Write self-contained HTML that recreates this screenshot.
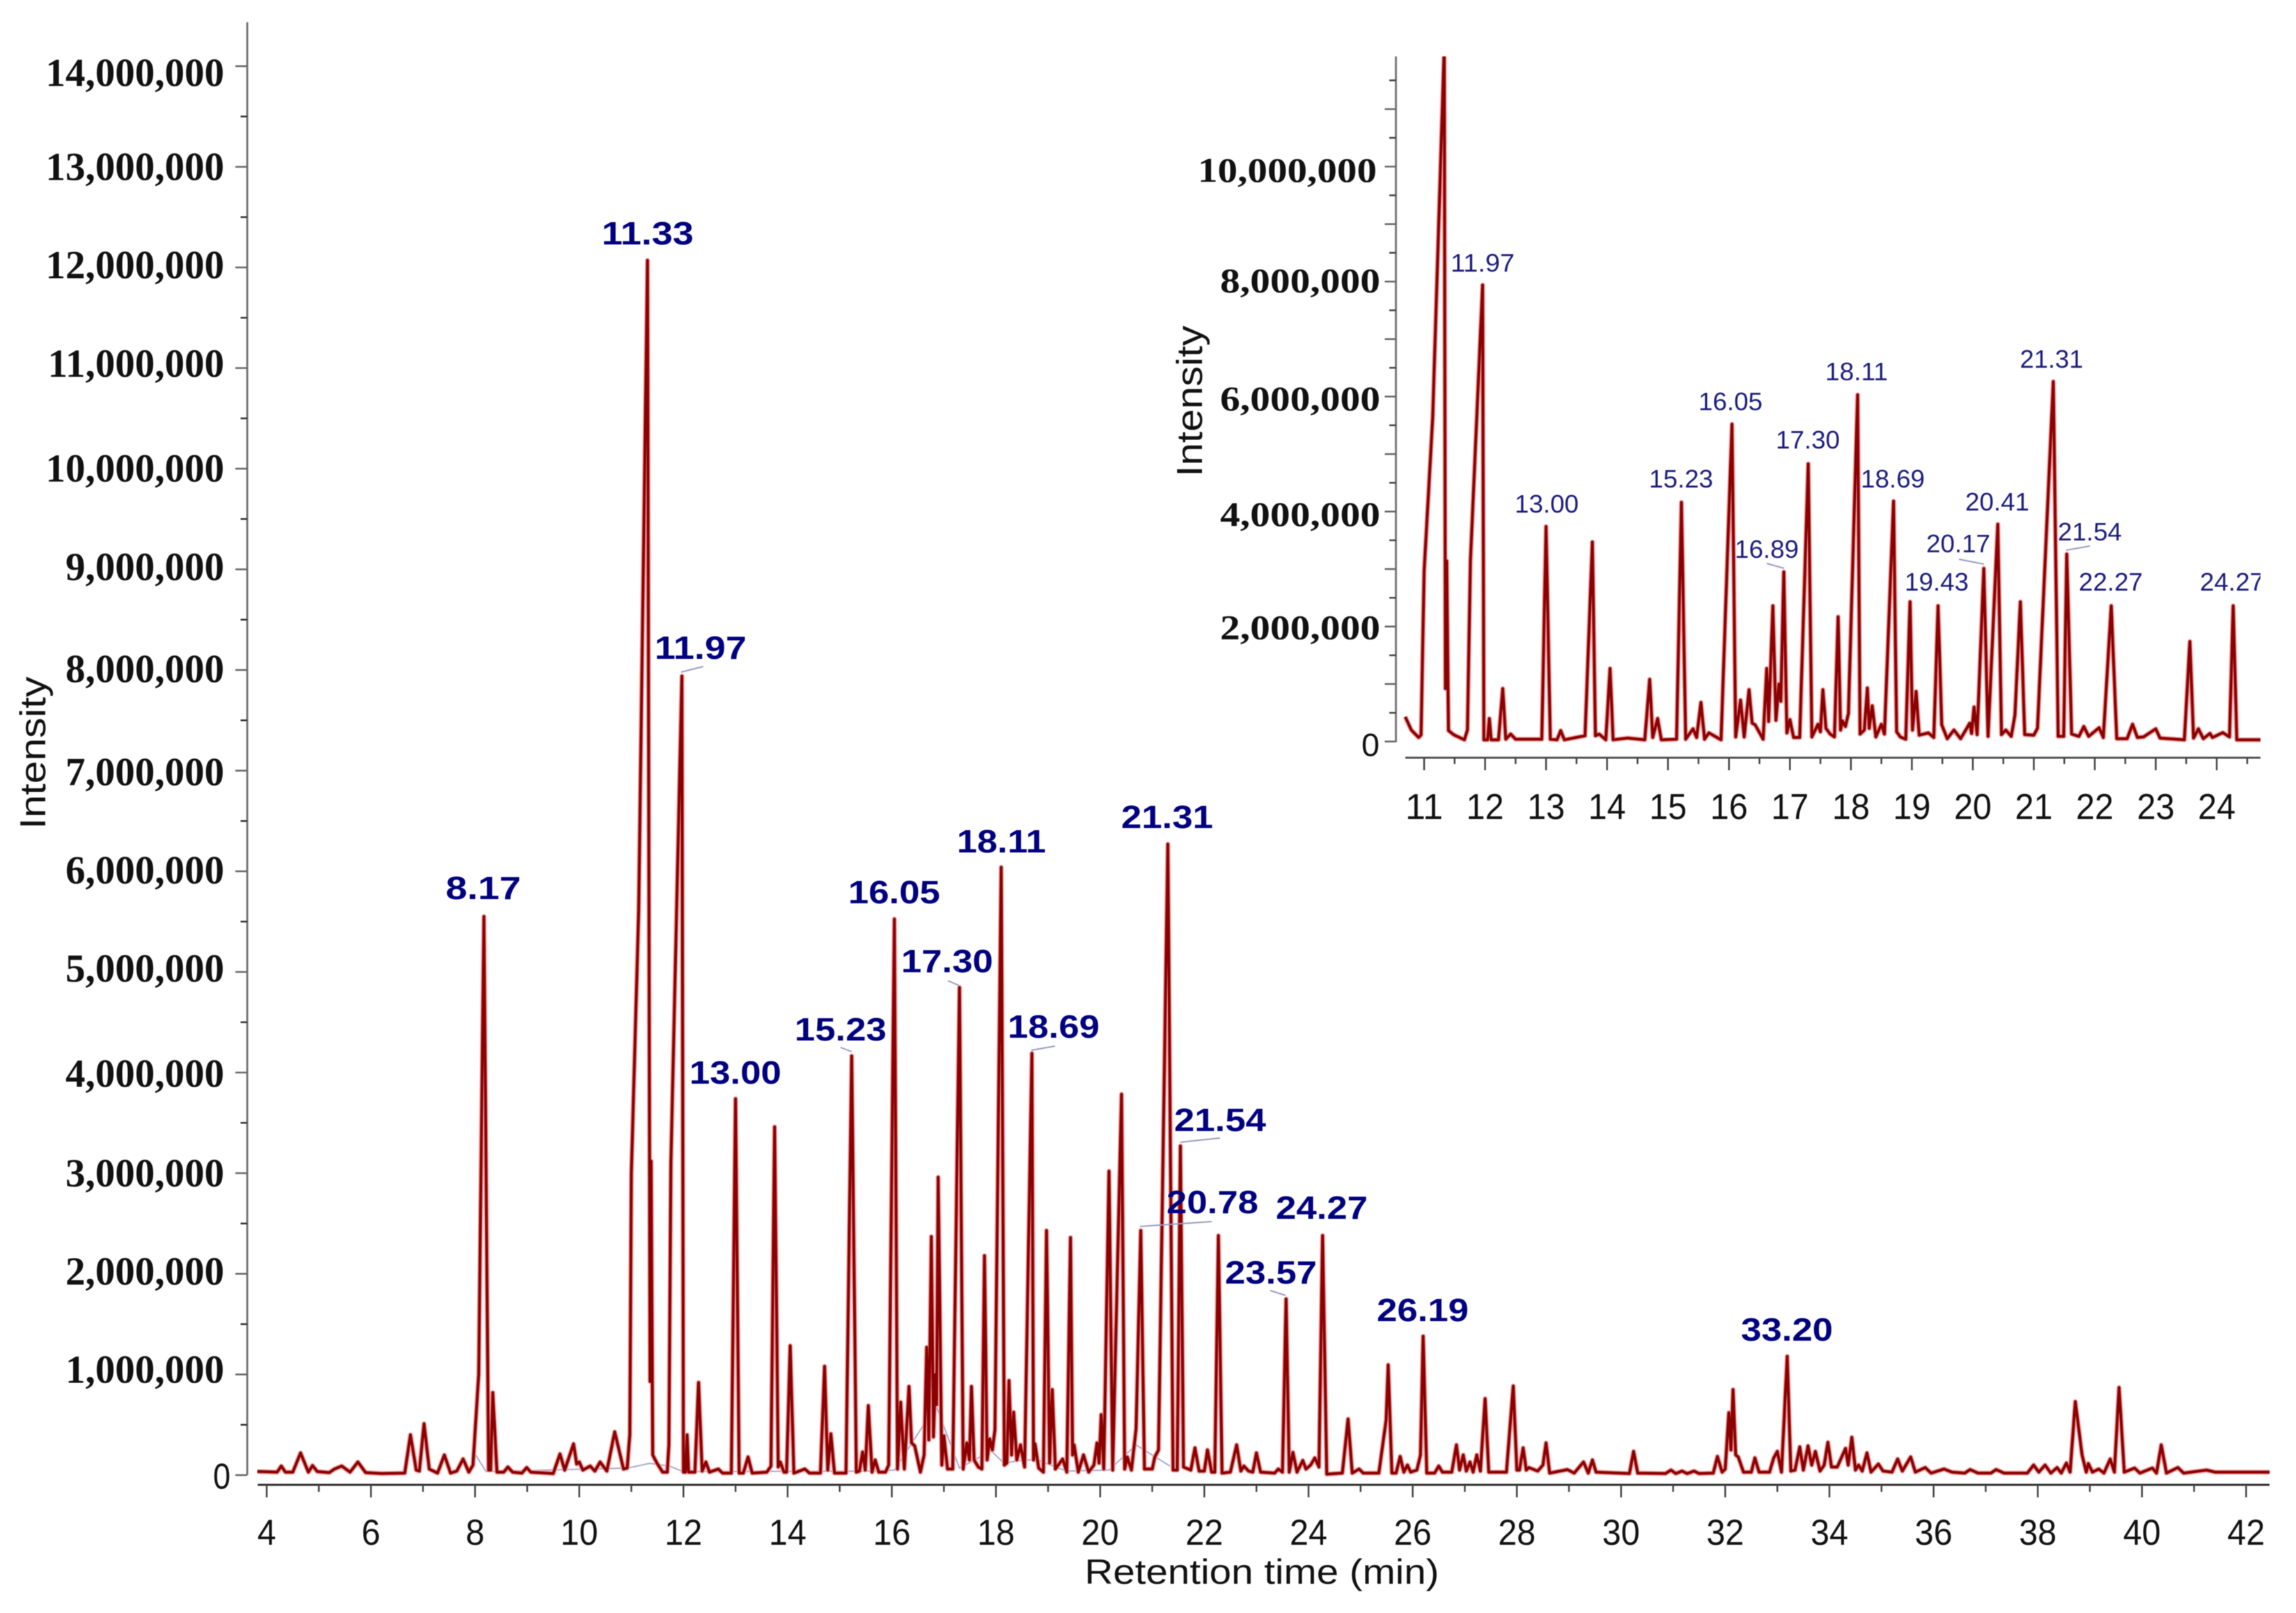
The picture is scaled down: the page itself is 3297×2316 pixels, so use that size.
<!DOCTYPE html>
<html lang="en">
<head>
<meta charset="utf-8">
<title>Chromatogram</title>
<style>
html,body{margin:0;padding:0;background:#fff;}
svg{display:block;filter:blur(0.6px);}
text{font-family:"Liberation Sans",sans-serif;}
.ylab{font-family:"Liberation Serif",serif;font-weight:bold;fill:#111;}
.main-peak{font-weight:bold;font-size:46px;fill:#000080;text-anchor:middle;}
.inset-peak{font-size:36px;fill:#1c1c80;text-anchor:middle;}
.leader{stroke:#9a9ac4;stroke-width:2;fill:none;}
</style>
</head>
<body>
<svg id="chart" xmlns="http://www.w3.org/2000/svg" width="3297" height="2316" viewBox="0 0 3297 2316">
<defs>
<clipPath id="insetClip"><rect x="2010" y="81" width="1236" height="1060"/></clipPath>
</defs>
<rect width="3297" height="2316" fill="#fff"/>
<g id="mainPlot"></g>
<g id="insetPlot"></g>

<text x="1812" y="2274" font-size="50" text-anchor="middle" textLength="509" lengthAdjust="spacingAndGlyphs" fill="#111">Retention time (min)</text>
<text transform="translate(65,1081) rotate(-90)" font-size="52" text-anchor="middle" textLength="219" lengthAdjust="spacingAndGlyphs" fill="#111">Intensity</text>
<text transform="translate(1726,576) rotate(-90)" font-size="52" text-anchor="middle" textLength="217" lengthAdjust="spacingAndGlyphs" fill="#111">Intensity</text>

<g>
<text class="main-peak" x="694" y="1291" textLength="108" lengthAdjust="spacingAndGlyphs">8.17</text>
<text class="main-peak" x="930" y="351" textLength="132" lengthAdjust="spacingAndGlyphs">11.33</text>
<text class="main-peak" x="1006" y="946" textLength="132" lengthAdjust="spacingAndGlyphs">11.97</text>
<text class="main-peak" x="1056" y="1556" textLength="132" lengthAdjust="spacingAndGlyphs">13.00</text>
<text class="main-peak" x="1207" y="1494" textLength="132" lengthAdjust="spacingAndGlyphs">15.23</text>
<text class="main-peak" x="1284" y="1297" textLength="132" lengthAdjust="spacingAndGlyphs">16.05</text>
<text class="main-peak" x="1360" y="1396" textLength="132" lengthAdjust="spacingAndGlyphs">17.30</text>
<text class="main-peak" x="1438" y="1224" textLength="128" lengthAdjust="spacingAndGlyphs">18.11</text>
<text class="main-peak" x="1513" y="1490" textLength="132" lengthAdjust="spacingAndGlyphs">18.69</text>
<text class="main-peak" x="1676" y="1189" textLength="132" lengthAdjust="spacingAndGlyphs">21.31</text>
<text class="main-peak" x="1752" y="1624" textLength="132" lengthAdjust="spacingAndGlyphs">21.54</text>
<text class="main-peak" x="1741" y="1742" textLength="132" lengthAdjust="spacingAndGlyphs">20.78</text>
<text class="main-peak" x="1898" y="1750" textLength="132" lengthAdjust="spacingAndGlyphs">24.27</text>
<text class="main-peak" x="1825" y="1843" textLength="132" lengthAdjust="spacingAndGlyphs">23.57</text>
<text class="main-peak" x="2043" y="1897" textLength="132" lengthAdjust="spacingAndGlyphs">26.19</text>
<text class="main-peak" x="2566" y="1925" textLength="132" lengthAdjust="spacingAndGlyphs">33.20</text>
<line class="leader" x1="978" y1="965" x2="1010" y2="957"/>
<line class="leader" x1="1207" y1="1504" x2="1223" y2="1510"/>
<line class="leader" x1="1361" y1="1408" x2="1377" y2="1415"/>
<line class="leader" x1="1481" y1="1508" x2="1515" y2="1502"/>
<line class="leader" x1="1695" y1="1640" x2="1752" y2="1634"/>
<line class="leader" x1="1637" y1="1761" x2="1740" y2="1754"/>
<line class="leader" x1="1824" y1="1853" x2="1846" y2="1860"/>
</g>

<g clip-path="url(#insetClip)">
<text class="inset-peak" x="2129" y="390" textLength="92" lengthAdjust="spacingAndGlyphs">11.97</text>
<text class="inset-peak" x="2221" y="736" textLength="92" lengthAdjust="spacingAndGlyphs">13.00</text>
<text class="inset-peak" x="2414" y="700" textLength="92" lengthAdjust="spacingAndGlyphs">15.23</text>
<text class="inset-peak" x="2485" y="589" textLength="92" lengthAdjust="spacingAndGlyphs">16.05</text>
<text class="inset-peak" x="2596" y="644" textLength="92" lengthAdjust="spacingAndGlyphs">17.30</text>
<text class="inset-peak" x="2666" y="546" textLength="90" lengthAdjust="spacingAndGlyphs">18.11</text>
<text class="inset-peak" x="2718" y="700" textLength="92" lengthAdjust="spacingAndGlyphs">18.69</text>
<text class="inset-peak" x="2537" y="801" textLength="92" lengthAdjust="spacingAndGlyphs">16.89</text>
<text class="inset-peak" x="2868" y="733" textLength="92" lengthAdjust="spacingAndGlyphs">20.41</text>
<text class="inset-peak" x="2812" y="793" textLength="92" lengthAdjust="spacingAndGlyphs">20.17</text>
<text class="inset-peak" x="2946" y="528" textLength="91" lengthAdjust="spacingAndGlyphs">21.31</text>
<text class="inset-peak" x="3001" y="776" textLength="92" lengthAdjust="spacingAndGlyphs">21.54</text>
<text class="inset-peak" x="2781" y="848" textLength="92" lengthAdjust="spacingAndGlyphs">19.43</text>
<text class="inset-peak" x="3031" y="848" textLength="92" lengthAdjust="spacingAndGlyphs">22.27</text>
<text class="inset-peak" x="3205" y="848" textLength="92" lengthAdjust="spacingAndGlyphs">24.27</text>
<line class="leader" x1="2537" y1="809" x2="2562" y2="816"/>
<line class="leader" x1="2813" y1="803" x2="2849" y2="810"/>
<line class="leader" x1="2967" y1="790" x2="3001" y2="784"/>
</g>
</svg>

<script>
// ---- main chart values: retention time (min) and intensity (millions) ----
const mainRt = [
3.82,4.2,4.28,4.36,4.5,4.65,4.8,4.88,4.97,5.2,5.3,5.44,
5.6,5.75,5.9,6.2,6.65,6.76,6.87,6.93,7.02,7.12,7.28,7.41,
7.53,7.65,7.77,7.88,7.96,8.07,8.17,8.26,8.3,8.34,8.42,8.55,
8.63,8.72,8.9,8.99,9.07,9.5,9.63,9.72,9.89,9.95,10.0,10.07,
10.21,10.3,10.4,10.53,10.68,10.85,10.92,10.97,11.0,11.14,11.31,11.36,
11.38,11.41,11.49,11.6,11.69,11.72,11.76,11.97,12.0,12.04,12.07,12.1,
12.22,12.29,12.36,12.43,12.5,12.67,12.75,12.92,13.0,13.07,13.15,13.24,
13.32,13.6,13.68,13.75,13.82,13.86,13.93,13.98,14.05,14.12,14.33,14.42,
14.63,14.71,14.77,14.83,14.9,15.12,15.23,15.32,15.38,15.44,15.49,15.55,
15.62,15.68,15.75,15.88,15.94,16.05,16.11,16.17,16.24,16.33,16.38,16.44,
16.55,16.62,16.67,16.71,16.76,16.8,16.84,16.86,16.89,16.96,17.0,17.07,
17.17,17.3,17.37,17.44,17.49,17.53,17.58,17.66,17.73,17.78,17.83,17.88,
17.93,17.98,18.1,18.16,18.21,18.25,18.3,18.34,18.4,18.47,18.55,18.69,
18.72,18.75,18.82,18.91,18.97,19.03,19.08,19.14,19.28,19.36,19.43,19.47,
19.5,19.58,19.68,19.78,19.88,19.94,19.98,20.02,20.07,20.17,20.24,20.41,
20.47,20.52,20.6,20.69,20.78,20.85,21.0,21.05,21.12,21.3,21.4,21.48,
21.54,21.6,21.74,21.82,21.9,22.0,22.06,22.14,22.2,22.27,22.34,22.5,
22.62,22.7,22.76,22.85,22.93,23.0,23.08,23.35,23.42,23.5,23.57,23.63,
23.7,23.78,23.89,23.95,24.04,24.12,24.2,24.27,24.35,24.65,24.76,24.84,
24.97,25.05,25.35,25.49,25.53,25.6,25.68,25.76,25.83,25.9,25.96,26.08,
26.15,26.2,26.27,26.42,26.5,26.57,26.75,26.84,26.9,26.97,27.03,27.1,
27.16,27.23,27.3,27.39,27.46,27.8,27.93,28.0,28.05,28.12,28.18,28.23,
28.4,28.5,28.56,28.63,28.97,29.1,29.28,29.37,29.45,29.52,30.16,30.24,
30.32,30.85,30.96,31.05,31.17,31.27,31.4,31.5,31.77,31.85,31.94,32.0,
32.07,32.11,32.15,32.2,32.25,32.35,32.5,32.57,32.65,32.85,32.93,33.0,
33.08,33.19,33.26,33.34,33.43,33.5,33.59,33.66,33.73,33.82,33.9,33.97,
34.04,34.15,34.31,34.36,34.43,34.5,34.56,34.63,34.72,34.8,34.94,35.03,
35.2,35.31,35.4,35.56,35.65,35.84,35.95,36.2,36.35,36.6,36.7,36.85,
37.1,37.2,37.35,37.8,37.92,38.02,38.14,38.25,38.37,38.45,38.55,38.62,
38.72,38.85,38.93,38.97,39.05,39.17,39.27,39.39,39.47,39.56,39.66,39.86,
39.96,40.2,40.28,40.37,40.47,40.69,40.8,41.24,41.4,42.45
];
const mainIntensity = [
.035,.03,.09,.03,.03,.22,.03,.095,.035,.025,.06,.09,
.03,.13,.025,.015,.02,.4,.05,.04,.51,.06,.02,.2,
.02,.04,.16,.03,.1,1.0,5.55,.05,.05,.82,.03,.03,
.08,.03,.02,.075,.03,.015,.21,.05,.31,.11,.13,.05,
.09,.04,.13,.04,.43,.06,.07,.4,3.0,5.6,12.07,.93,
3.12,.2,.12,.03,.03,.3,3.1,7.94,.03,.03,.4,.03,
.03,.92,.04,.13,.03,.06,.02,.02,3.74,.02,.02,.18,
.02,.03,.09,3.46,.08,.13,.03,.03,1.285,.02,.06,.02,
.02,1.08,.05,.41,.02,.02,4.165,.03,.04,.23,.05,.69,
.03,.15,.03,.03,.1,5.525,.06,.725,.06,.88,.32,.29,
.03,.2,1.27,.35,2.37,.38,1.0,.7,2.96,.1,.39,.06,
.06,4.845,.06,.32,.15,.88,.15,.08,.06,2.18,.15,.36,
.25,.45,6.04,.1,.12,.94,.2,.625,.15,.3,.08,4.19,
.15,.31,.07,.03,2.43,.12,.85,.06,.16,.03,2.36,.2,
.3,.03,.2,.03,.1,.32,.12,.6,.06,3.02,.05,3.785,
.06,.18,.05,.46,2.43,.06,.06,.18,.25,6.27,.05,.05,
3.27,.08,.05,.27,.04,.04,.25,.03,.03,2.38,.02,.03,
.3,.04,.09,.04,.03,.22,.03,.02,.06,.03,1.75,.03,
.225,.03,.145,.06,.1,.17,.08,2.38,.01,.02,.557,.02,
.06,.02,.02,.55,1.095,.02,.02,.185,.03,.1,.03,.05,
.2,1.38,.02,.02,.09,.03,.03,.3,.05,.2,.04,.13,
.03,.2,.04,.76,.03,.03,.885,.05,.05,.27,.05,.075,
.04,.1,.32,.02,.055,.02,.13,.02,.15,.03,.015,.235,
.02,.015,.05,.015,.04,.015,.04,.015,.02,.185,.03,.06,
.62,.25,.85,.2,.18,.03,.03,.17,.03,.03,.17,.235,
.03,1.18,.04,.05,.28,.05,.29,.1,.235,.04,.1,.325,
.08,.08,.265,.1,.375,.05,.1,.04,.22,.03,.11,.04,
.03,.16,.04,.18,.03,.075,.02,.06,.03,.02,.055,.02,
.02,.055,.02,.02,.1,.03,.1,.02,.075,.02,.12,.03,
.73,.2,.03,.115,.03,.06,.02,.16,.03,.87,.03,.07,
.02,.07,.02,.3,.02,.075,.02,.05,.03,.03
];
// integration baseline drawn faintly under the main trace
const baselineRt = [8.0,8.21,10.93,11.35,11.73,11.99,15.7,16.05,16.85,17.3,17.91,18.15,18.55,18.8,19.35,20.17,20.69,21.34];
const baselineIntensity = [.21,.035,.07,.117,.09,.035,.04,.05,.69,.07,.24,.12,.15,.15,.04,.05,.3,.09];

// ---- inset values ----
const insetRt = [
10.69,10.79,10.91,10.95,11.0,11.14,11.33,11.35,11.37,11.4,11.49,11.66,
11.71,11.76,11.96,11.98,12.04,12.07,12.1,12.22,12.29,12.34,12.42,12.5,
12.93,13.0,13.07,13.18,13.24,13.3,13.64,13.76,13.81,13.87,13.98,14.05,
14.1,14.34,14.62,14.7,14.75,14.83,14.89,15.14,15.22,15.29,15.41,15.47,
15.54,15.6,15.67,15.87,16.05,16.11,16.19,16.25,16.33,16.38,16.43,16.56,
16.62,16.65,16.72,16.77,16.82,16.85,16.9,16.95,17.0,17.06,17.16,17.3,
17.36,17.46,17.5,17.54,17.59,17.66,17.73,17.79,17.83,17.86,17.91,17.96,
18.11,18.15,18.22,18.27,18.3,18.35,18.41,18.5,18.55,18.7,18.75,18.81,
18.9,18.97,19.01,19.07,19.12,19.27,19.36,19.43,19.49,19.58,19.69,19.8,
19.95,19.98,20.02,20.07,20.18,20.25,20.41,20.47,20.54,20.63,20.69,20.78,
20.85,21.0,21.06,21.32,21.4,21.49,21.54,21.62,21.74,21.82,21.9,22.07,
22.14,22.27,22.36,22.53,22.62,22.7,22.8,23.0,23.07,23.47,23.56,23.62,
23.7,23.78,23.89,23.93,24.1,24.21,24.27,24.33,24.72
];
const insetIntensity = [
.43,.2,.07,.115,2.96,5.63,12.07,.92,3.14,.19,.115,.03,
.2,3.14,7.94,.03,.03,.4,.03,.03,.92,.04,.13,.04,
.04,3.74,.04,.03,.19,.03,.1,3.47,.1,.13,.03,1.27,
.03,.06,.03,1.08,.07,.4,.03,.04,4.16,.04,.22,.07,
.68,.04,.15,.03,5.52,.08,.72,.08,.9,.32,.29,.04,
1.27,.35,2.36,.37,1.0,.7,2.95,.15,.38,.07,.07,4.83,
.08,.3,.17,.9,.23,.13,.08,2.17,.2,.36,.26,.49,
6.03,.13,.2,.93,.23,.62,.08,.3,.13,4.18,.17,.08,
.04,2.43,.2,.87,.11,.15,.07,2.36,.29,.05,.2,.05,
.32,.14,.6,.12,3.01,.09,3.78,.12,.2,.09,.46,2.43,
.12,.11,.23,6.26,.09,.09,3.26,.13,.09,.26,.09,.24,
.07,2.36,.05,.05,.3,.07,.08,.22,.06,.03,1.74,.06,
.22,.05,.14,.07,.155,.08,2.36,.03,.03
];

// ---- tick values and labels ----
const mainYMajor = [14,13,12,11,10,9,8,7,6,5,4,3,2,1,0];
const mainYLabels = ["14,000,000","13,000,000","12,000,000","11,000,000","10,000,000","9,000,000","8,000,000","7,000,000","6,000,000","5,000,000","4,000,000","3,000,000","2,000,000","1,000,000","0"];
const mainYLabelNudge = [10,0.5,-3,-6,0,-3,-1,2.5,-1,-4.5,2,0.5,-3,-6.5,1];
const mainYMinor = [13.5,12.5,11.5,10.5,9.5,8.5,7.5,6.5,5.5,4.5,3.5,2.5,1.5,0.5];
const mainXMajor = [4,6,8,10,12,14,16,18,20,22,24,26,28,30,32,34,36,38,40,42];
const mainXMinor = [5,7,9,11,13,15,17,19,21,23,25,27,29,31,33,35,37,39,41];

const insetYLabelled = [10,8,6,4,2,0];
const insetYLabels = ["10,000,000","8,000,000","6,000,000","4,000,000","2,000,000","0"];
const insetYLabelNudge = [5,-2,2.5,3.5,1,3];
const insetYMajor = [11,10,9,8,7,6,5,4,3,2,1,0];
const insetYMinor = [11.5,10.5,9.5,8.5,7.5,6.5,5.5,4.5,3.5,2.5,1.5,0.5];
const insetXMajor = [11,12,13,14,15,16,17,18,19,20,21,22,23,24];
const insetXMinor = [11.5,12.5,13.5,14.5,15.5,16.5,17.5,18.5,19.5,20.5,21.5,22.5,23.5,24.5];

// ---- axis functions ----
const mainX = t => 383 + (t - 4) * 74.8;
const mainY = v => 2118 - v * 144.5;
const insetX = t => 2045 + (t - 11) * 87.55;
const insetY = v => 1064.7 - v * 82.55;

const NS = 'http://www.w3.org/2000/svg';
function make(tag, attrs, parent, txt) {
  const el = document.createElementNS(NS, tag);
  for (const k in attrs) el.setAttribute(k, attrs[k]);
  if (txt !== undefined) el.textContent = txt;
  parent.appendChild(el);
  return el;
}
function points(rt, vals, fx, fy) {
  const out = [];
  const n = Math.min(rt.length, vals.length);
  for (let i = 0; i < n; i++) out.push(fx(rt[i]).toFixed(1) + ',' + fy(vals[i]).toFixed(1));
  return out.join(' ');
}

// ---- main chart ----
const mainG = document.getElementById('mainPlot');
const mainPts = points(mainRt, mainIntensity, mainX, mainY);

const mainBase = make('polyline', {points: points(baselineRt, baselineIntensity, mainX, mainY), fill:'none', stroke:'#a9a9d2', 'stroke-width':2}, mainG);



const mainHalo = make('polyline', {points: mainPts, fill:'none', stroke:'#f0a0a0', 'stroke-width':7, 'stroke-linejoin':'round'}, mainG);



const mainLine = make('polyline', {points: mainPts, fill:'none', stroke:'#8b0000', 'stroke-width':4, 'stroke-linejoin':'round'}, mainG);



const mainYAxis = make('line', {x1:355, y1:32, x2:355, y2:mainY(0), stroke:'#777', 'stroke-width':3}, mainG);



const mainXAxis = make('line', {x1:370, y1:2132, x2:3259, y2:2132, stroke:'#333', 'stroke-width':3}, mainG);



mainYMajor.forEach((v, i) => {
  const tick = make('line', {x1:338, y1:mainY(v), x2:355, y2:mainY(v), stroke:'#666', 'stroke-width':2.5}, mainG);
  
  
  const isZero = mainYLabels[i] === '0';
  const label = make('text', isZero
    ? {x:331, y:mainY(v) + mainYLabelNudge[i] + 18.5, 'text-anchor':'end', 'font-size':52, fill:'#111', textLength:25, lengthAdjust:'spacingAndGlyphs'}
    : {x:322, y:mainY(v) + mainYLabelNudge[i] + 18.5, 'text-anchor':'end', 'font-size':57, class:'ylab'}, mainG, mainYLabels[i]);
  
  
});
mainYMinor.forEach(v => {
  const tick = make('line', {x1:345.5, y1:mainY(v), x2:355, y2:mainY(v), stroke:'#333', 'stroke-width':2.5}, mainG);
  
  
});
mainXMajor.forEach(t => {
  const tick = make('line', {x1:mainX(t), y1:2132, x2:mainX(t), y2:2150, stroke:'#444', 'stroke-width':2.5}, mainG);
  
  
  const label = make('text', {x:mainX(t), y:2218, 'text-anchor':'middle', 'font-size':52, fill:'#111', textLength:String(t).length * 27, lengthAdjust:'spacingAndGlyphs'}, mainG, String(t));
  
  
});
mainXMinor.forEach(t => {
  const tick = make('line', {x1:mainX(t), y1:2132, x2:mainX(t), y2:2142, stroke:'#444', 'stroke-width':2.5}, mainG);
  
  
});

// ---- inset ----
const insetG = document.getElementById('insetPlot');
const insetClipG = make('g', {'clip-path':'url(#insetClip)'}, insetG);


const insetPts = points(insetRt, insetIntensity, insetX, insetY);

const insetHalo = make('polyline', {points: insetPts, fill:'none', stroke:'#f0a0a0', 'stroke-width':7, 'stroke-linejoin':'round'}, insetClipG);



const insetLine = make('polyline', {points: insetPts, fill:'none', stroke:'#8b0000', 'stroke-width':4, 'stroke-linejoin':'round'}, insetClipG);



const insetYAxis = make('line', {x1:2004.5, y1:81, x2:2004.5, y2:insetY(0) + 1, stroke:'#777', 'stroke-width':3}, insetG);



const insetXAxis = make('line', {x1:2018, y1:1088, x2:3246, y2:1088, stroke:'#555', 'stroke-width':3}, insetG);



insetYMajor.forEach(v => {
  const tick = make('line', {x1:1988.5, y1:insetY(v), x2:2004.5, y2:insetY(v), stroke:'#666', 'stroke-width':2.5}, insetG);
  
  
});
insetYMinor.forEach(v => {
  const tick = make('line', {x1:1995, y1:insetY(v), x2:2004.5, y2:insetY(v), stroke:'#444', 'stroke-width':2.5}, insetG);
  
  
});
insetYLabelled.forEach((v, i) => {
  const isZero = insetYLabels[i] === '0';
  const isTen = insetYLabels[i].length > 9;
  const attrs = isZero
    ? {x:1981, y:insetY(v) + insetYLabelNudge[i] + 18, 'text-anchor':'end', 'font-size':46, fill:'#111', textLength:26, lengthAdjust:'spacingAndGlyphs'}
    : {x:isTen ? 1977 : 1982, y:insetY(v) + insetYLabelNudge[i] + 17, 'text-anchor':'end', 'font-size':50, class:'ylab', textLength:isTen ? 257 : 230, lengthAdjust:'spacingAndGlyphs'};
  const label = make('text', attrs, insetG, insetYLabels[i]);
  
  
});
insetXMajor.forEach(t => {
  const tick = make('line', {x1:insetX(t), y1:1088, x2:insetX(t), y2:1106, stroke:'#444', 'stroke-width':2.5}, insetG);
  
  
  const label = make('text', {x:insetX(t), y:1176, 'text-anchor':'middle', 'font-size':52, fill:'#111', textLength:54, lengthAdjust:'spacingAndGlyphs'}, insetG, String(t));
  
  
});
insetXMinor.forEach(t => {
  const tick = make('line', {x1:insetX(t), y1:1088, x2:insetX(t), y2:1097, stroke:'#444', 'stroke-width':2.5}, insetG);
  
  
});
</script>
</body>
</html>
